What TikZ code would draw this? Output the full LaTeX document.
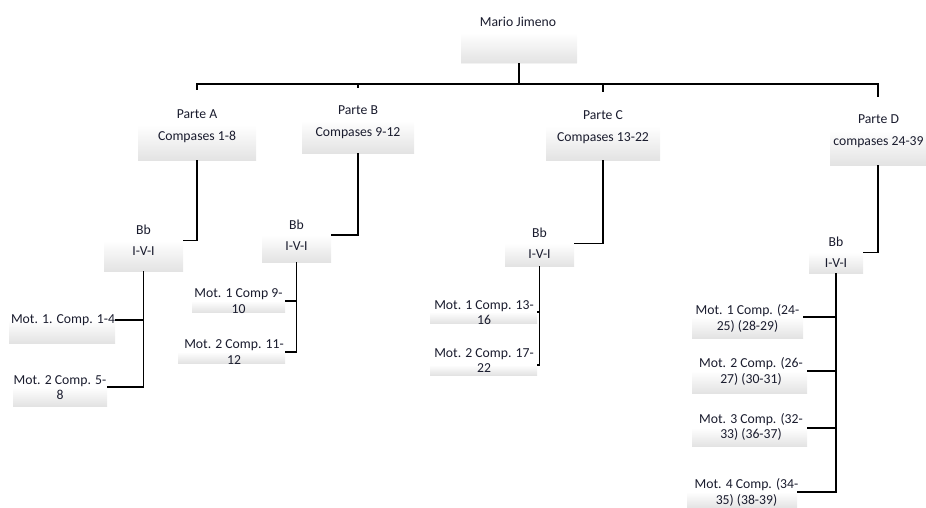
\documentclass[tikz,border=0pt]{standalone}
\usepackage{fontspec}
\setmainfont{Carlito}
\usetikzlibrary{shadows,fit}
\definecolor{txtc}{HTML}{1A1C2E}
\begin{document}
\begin{tikzpicture}[x=1pt,y=-1pt,
  box/.style={draw=none, inner sep=0pt, top color=white, bottom color=black!11, middle color=white,
    drop shadow={opacity=0.10, shadow xshift=0pt, shadow yshift=-1pt}},
  txt/.style={inner sep=0pt, text=txtc, align=center, font=\fontsize{13.7}{15.5}\selectfont},
  ptxt/.style={txt, font=\fontsize{13.7}{22}\selectfont},
  btxt/.style={txt, font=\fontsize{13.7}{21}\selectfont},
  conn/.style={draw=black, line width=1.6pt},
  busline/.style={draw=black, line width=2.6pt}]
\useasboundingbox (0,0) rectangle (926,508);
% boxes
\node[box, fit={(461,2) (577,63)}] (root) {};
\node[box, fit={(138,90) (256,160)}] (pA) {};
\node[box, fit={(302,88) (414,153)}] (pB) {};
\node[box, fit={(546,92) (660,160)}] (pC) {};
\node[box, fit={(830,97) (926,165)}] (pD) {};
\node[box, fit={(104,210) (183,271)}] (bbA) {};
\node[box, fit={(262,208) (331,262)}] (bbB) {};
\node[box, fit={(505,221) (574,266)}] (bbC) {};
\node[box, fit={(809,232) (863,273)}] (bbD) {};
\node[box, fit={(9,297) (115,343)}] (A1) {};
\node[box, fit={(13,368) (107,406)}] (A2) {};
\node[box, fit={(192,290) (285,312)}] (B1) {};
\node[box, fit={(178,341) (285,363)}] (B2) {};
\node[box, fit={(430,301) (537,323)}] (C1) {};
\node[box, fit={(430,355) (537,375)}] (C2) {};
\node[box, fit={(692,296) (803,338)}] (D1) {};
\node[box, fit={(692,349) (807,393)}] (D2) {};
\node[box, fit={(692,410) (807,446)}] (D3) {};
\node[box, fit={(687,476) (797,508)}] (D4) {};
% texts
\node[txt] (roott) at (518,22) {Mario Jimeno};
\node[ptxt] (pAt) at (197,126) {Parte A\\Compases 1-8};
\node[ptxt] (pBt) at (358,122.5) {Parte B\\Compases 9-12};
\node[ptxt] (pCt) at (603,127) {Parte C\\Compases 13-22};
\node[ptxt] (pDt) at (878.5,131) {Parte D\\compases 24-39};
\node[btxt] (bbAt) at (143.5,240) {Bb\\I-V-I};
\node[btxt] (bbBt) at (296.5,235) {Bb\\I-V-I};
\node[btxt] (bbCt) at (539.5,243.5) {Bb\\I-V-I};
\node[btxt] (bbDt) at (836,252.5) {Bb\\I-V-I};
\node[txt] (A1t) at (63,320) {Mot. 1. Comp. 1-4};
\node[txt] (A2t) at (60,387.5) {Mot. 2 Comp. 5-\\8};
\node[txt] (B1t) at (238.5,301) {Mot. 1 Comp 9-\\10};
\node[txt] (B2t) at (234,352) {Mot. 2 Comp. 11-\\12};
\node[txt] (C1t) at (484,312.5) {Mot. 1 Comp. 13-\\16};
\node[txt] (C2t) at (484,360.5) {Mot. 2 Comp. 17-\\22};
\node[txt] (D1t) at (747.5,318.5) {Mot. 1 Comp. (24-\\25) (28-29)};
\node[txt] (D2t) at (751,371.5) {Mot. 2 Comp. (26-\\27) (30-31)};
\node[txt] (D3t) at (751,427) {Mot. 3 Comp. (32-\\33) (36-37)};
\node[txt] (D4t) at (746.5,492.5) {Mot. 4 Comp. (34-\\35) (38-39)};
% bus
\coordinate (busc) at ([yshift=-21pt]root.south);
\draw[busline] (root.south) -- (busc);
\draw[busline] (pA.north) |- (busc) -| (pD.north);
\draw[conn] (pB.north) -- (pB.north |- busc);
\draw[conn] (pC.north) -- (pC.north |- busc);
% parte -> Bb
\draw[conn] (pA.south) |- (bbA.east);
\draw[conn] (pB.south) |- (bbB.east);
\draw[conn] (pC.south) |- (bbC.east);
\draw[conn] (pD.south) |- (bbD.east);
% Bb -> children
\draw[conn] (bbA.south) |- (A1.east);
\draw[conn] (bbA.south) |- (A2.east);
\draw[conn] (bbB.south) |- (B1.east);
\draw[conn] (bbB.south) |- (B2.east);
\draw[conn] (bbC.south) |- (C1.east);
\draw[conn] (bbC.south) |- (C2.east);
\draw[conn] (bbD.south) |- (D1.east);
\draw[conn] (bbD.south) |- (D2.east);
\draw[conn] (bbD.south) |- (D3.east);
\draw[conn] (bbD.south) |- (D4.east);
\end{tikzpicture}
\end{document}
